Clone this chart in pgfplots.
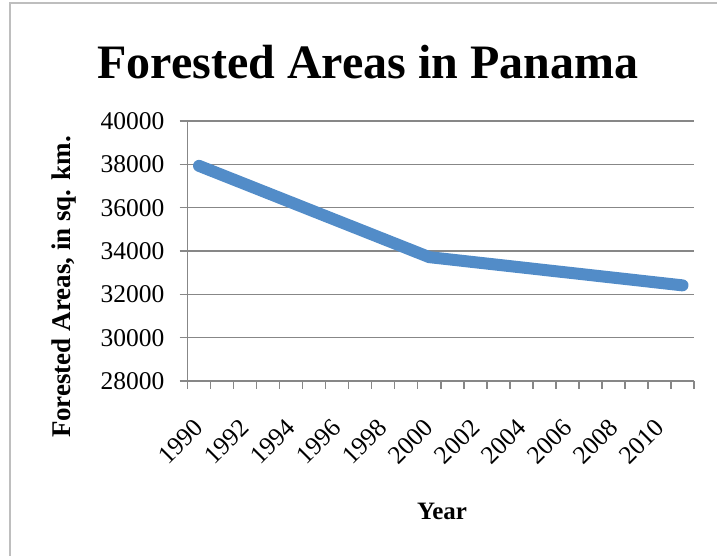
\documentclass[border=0pt]{standalone}
\usepackage{fontspec}
\setmainfont{Liberation Serif}
\usepackage{pgfplots}
\pgfplotsset{compat=1.18}
\definecolor{linblue}{RGB}{82,140,200}
\definecolor{gridgray}{RGB}{135,135,135}
\definecolor{framegray}{RGB}{190,190,190}
\begin{document}
\begin{tikzpicture}[x=1pt,y=1pt]
\useasboundingbox (0,0) rectangle (717,556);
\draw[framegray, line width=1.5pt] (10,0) -- (10,553) -- (717,553);
\node[font=\fontsize{48}{52}\selectfont\bfseries, anchor=base, inner sep=0pt] at (368,477.5) {Forested Areas in Panama};
\begin{axis}[
  at={(187.5pt,175pt)}, anchor=south west,
  scale only axis, width=506.5pt, height=260pt,
  xmin=-0.5, xmax=21.5, ymin=28000, ymax=40000,
  ytick={28000,30000,...,40000},
  scaled y ticks=false,
  xtick={-0.5,0.5,...,21.5}, xticklabels={},
  extra x ticks={0,2,...,20},
  extra x tick labels={1990,1992,1994,1996,1998,2000,2002,2004,2006,2008,2010},
  extra x tick style={major tick length=0pt, grid=none,
    tick label style={rotate=45, anchor=east, inner sep=0pt, xshift=-29.7pt, yshift=-29.7pt,
      font=\fontsize{25.5}{28}\selectfont}},
  axis x line*=bottom, axis y line*=left,
  axis line style={gridgray, line width=1.5pt, -},
  ymajorgrids, grid style={gridgray, line width=1.5pt},
  tick style={gridgray, line width=1.5pt}, major tick length=8pt, tick align=outside,
  yticklabel style={font=\fontsize{25.5}{28}\selectfont, inner sep=0pt, xshift=-15pt},
  /pgf/number format/1000 sep={},
  /pgf/number format/assume math mode=true,
  clip=false,
]
\addplot[linblue, line width=12pt, line cap=round, line join=round] table {
x y
0 37930
1 37509
2 37088
3 36666
4 36245
5 35823
6 35402
7 34981
8 34559
9 34138
10 33716
11 33598
12 33479
13 33361
14 33243
15 33124
16 33006
17 32888
18 32769
19 32651
20 32532
21 32414
};
\end{axis}
\node[font=\fontsize{27}{30}\selectfont\bfseries, rotate=90, inner sep=0pt] at (64,269) {Forested Areas, in sq. km.};
\node[font=\fontsize{25}{28}\selectfont\bfseries, anchor=base, inner sep=0pt] at (442,36) {Year};
\end{tikzpicture}
\end{document}
